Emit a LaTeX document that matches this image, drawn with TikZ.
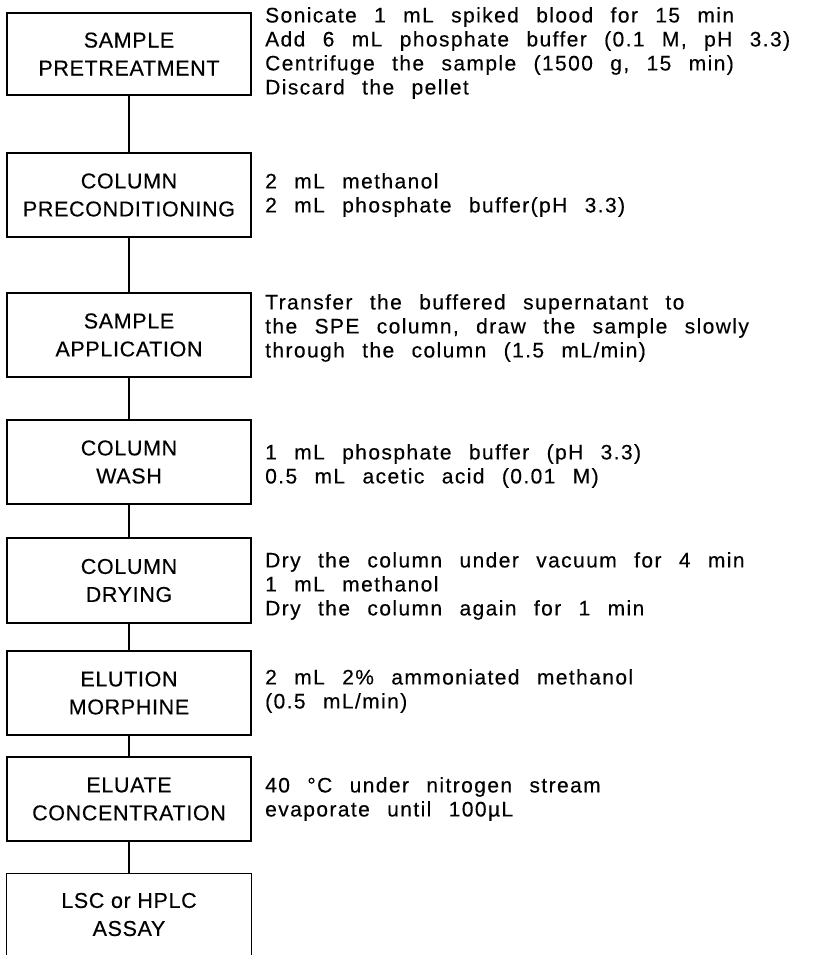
\documentclass[tikz,border=0pt]{standalone}
\usepackage{fontspec}
\newfontfamily\boxfont[LetterSpace=3,FakeBold=0.3]{Liberation Sans}
\newfontfamily\notefont[LetterSpace=6.7,WordSpace=2.4,FakeBold=0.3]{Liberation Sans}
\begin{document}
\begin{tikzpicture}[x=1pt,y=-1pt,
  stepbox/.style={draw, line width=1.4pt, minimum width=244pt, align=center, inner sep=0pt,
    font=\boxfont\fontsize{21.5}{28}\selectfont},
  openbox/.style={stepbox, draw=none},
  note/.style={anchor=west, align=left, inner sep=0pt,
    font=\notefont\fontsize{21}{24}\selectfont},
  link/.style={line width=1.2pt}]
\useasboundingbox (0,0) rectangle (813,955);
\node[stepbox, minimum height=82pt] (b1) at (129,54) {SAMPLE\\PRETREATMENT};
\node[stepbox, minimum height=84pt] (b2) at (129,195) {COLUMN\\PRECONDITIONING};
\node[stepbox, minimum height=84pt] (b3) at (129,335) {SAMPLE\\APPLICATION};
\node[stepbox, minimum height=84pt] (b4) at (129,462) {COLUMN\\WASH};
\node[stepbox, minimum height=85pt] (b5) at (129,580.5) {COLUMN\\DRYING};
\node[stepbox, minimum height=84pt] (b6) at (129,693) {ELUTION\\MORPHINE};
\node[stepbox, minimum height=84pt] (b7) at (129,799) {ELUATE\\CONCENTRATION};
\node[openbox, minimum height=81pt] (b8) at (129,914.5) {LSC or HPLC\\ASSAY};
\draw[line width=1.4pt] (b8.south west) -- (b8.north west) -- (b8.north east) -- (b8.south east);
\draw[link] (b1) -- (b2);
\draw[link] (b2) -- (b3);
\draw[link] (b3) -- (b4);
\draw[link] (b4) -- (b5);
\draw[link] (b5) -- (b6);
\draw[link] (b6) -- (b7);
\draw[link] (b7) -- (b8);
\node[note] (n1) at (265,53) {Sonicate 1 mL spiked blood for 15 min\\Add 6 mL phosphate buffer (0.1 M, pH 3.3)\\Centrifuge the sample (1500 g, 15 min)\\Discard the pellet};
\node[note] (n2) at (265,195) {2 mL methanol\\2 mL phosphate buffer(pH 3.3)};
\node[note] (n3) at (265,328) {Transfer the buffered supernatant to\\the SPE column, draw the sample slowly\\through the column (1.5 mL/min)};
\node[note] (n4) at (265,466) {1 mL phosphate buffer (pH 3.3)\\0.5 mL acetic acid (0.01 M)};
\node[note] (n5) at (265,586) {Dry the column under vacuum for 4 min\\1 mL methanol\\Dry the column again for 1 min};
\node[note] (n6) at (265,691) {2 mL 2\% ammoniated methanol\\(0.5 mL/min)};
\node[note] (n7) at (265,799) {40 °C under nitrogen stream\\evaporate until 100µL};
\end{tikzpicture}
\end{document}
